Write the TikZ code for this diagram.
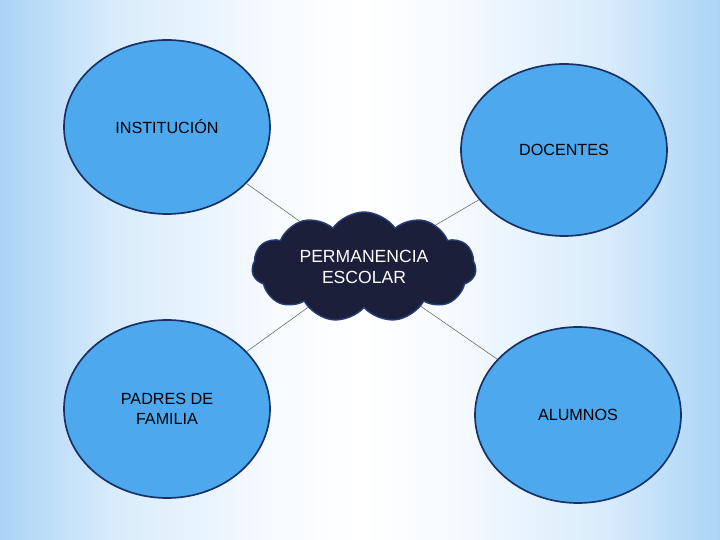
\documentclass[tikz,border=0pt]{standalone}
\usepackage{fontspec}
\setmainfont{Liberation Sans}
\usepackage{tikz}
\usetikzlibrary{shapes.geometric,%
                shapes.symbols}
\definecolor{fondo}{RGB}{170,212,246}
\definecolor{globo}{RGB}{77,168,238}
\definecolor{borde}{RGB}{25,50,100}
\definecolor{nube}{RGB}{27,31,58}
\definecolor{nubeborde}{RGB}{40,60,120}
\pgfdeclarehorizontalshading{fondoh}{100bp}{color(0bp)=(fondo); color(25bp)=(fondo);
  color(33bp)=(white!55!fondo); color(44bp)=(white!90!fondo); color(50bp)=(white);
  color(56bp)=(white!90!fondo); color(67bp)=(white!55!fondo); color(75bp)=(fondo);
  color(100bp)=(fondo)}

\begin{document}
\begin{tikzpicture}
  \tikzstyle{Globo}=[ellipse,draw=borde,line width=1.2pt,fill=globo,
                     inner sep=0pt,minimum width=5.15cm,align=center,
                     font=\fontsize{11.5}{14}\selectfont]
  \tikzstyle{Nube}=[cloud,cloud puffs=11,cloud puff arc=110,aspect=2.2,
                    draw=nubeborde,line width=1pt,fill=nube,text=white,
                    inner sep=0pt,minimum width=5.6cm,minimum height=2.75cm,
                    align=center,font=\fontsize{12.5}{15.5}\selectfont]
  \tikzstyle{Enlace}=[draw=black!60,line width=0.4pt]
  % fondo
  \shade[shading=fondoh] (0,0) rectangle (18,13.5);
  \useasboundingbox (0,0) rectangle (18,13.5);
  % nodos
  \node[Globo,minimum height=4.35cm] (inst) at (4.175,10.325) {INSTITUCIÓN};
  \node[Globo,minimum height=4.3cm] (doc) at (14.1,9.75) {DOCENTES};
  \node[Globo,minimum height=4.45cm] (padres) at (4.175,3.275) {PADRES DE\\FAMILIA};
  \node[Globo,minimum height=4.4cm] (alum) at (14.45,3.125) {ALUMNOS};
  \node[Nube] (perm) at (9.1,6.825) {PERMANENCIA\\ESCOLAR};
  % enlaces
  \path[Enlace] (inst) -- (perm);
  \path[Enlace] (doc) -- (perm);
  \path[Enlace] (padres) -- (perm);
  \path[Enlace] (alum) -- (perm);
\end{tikzpicture}
\end{document}
